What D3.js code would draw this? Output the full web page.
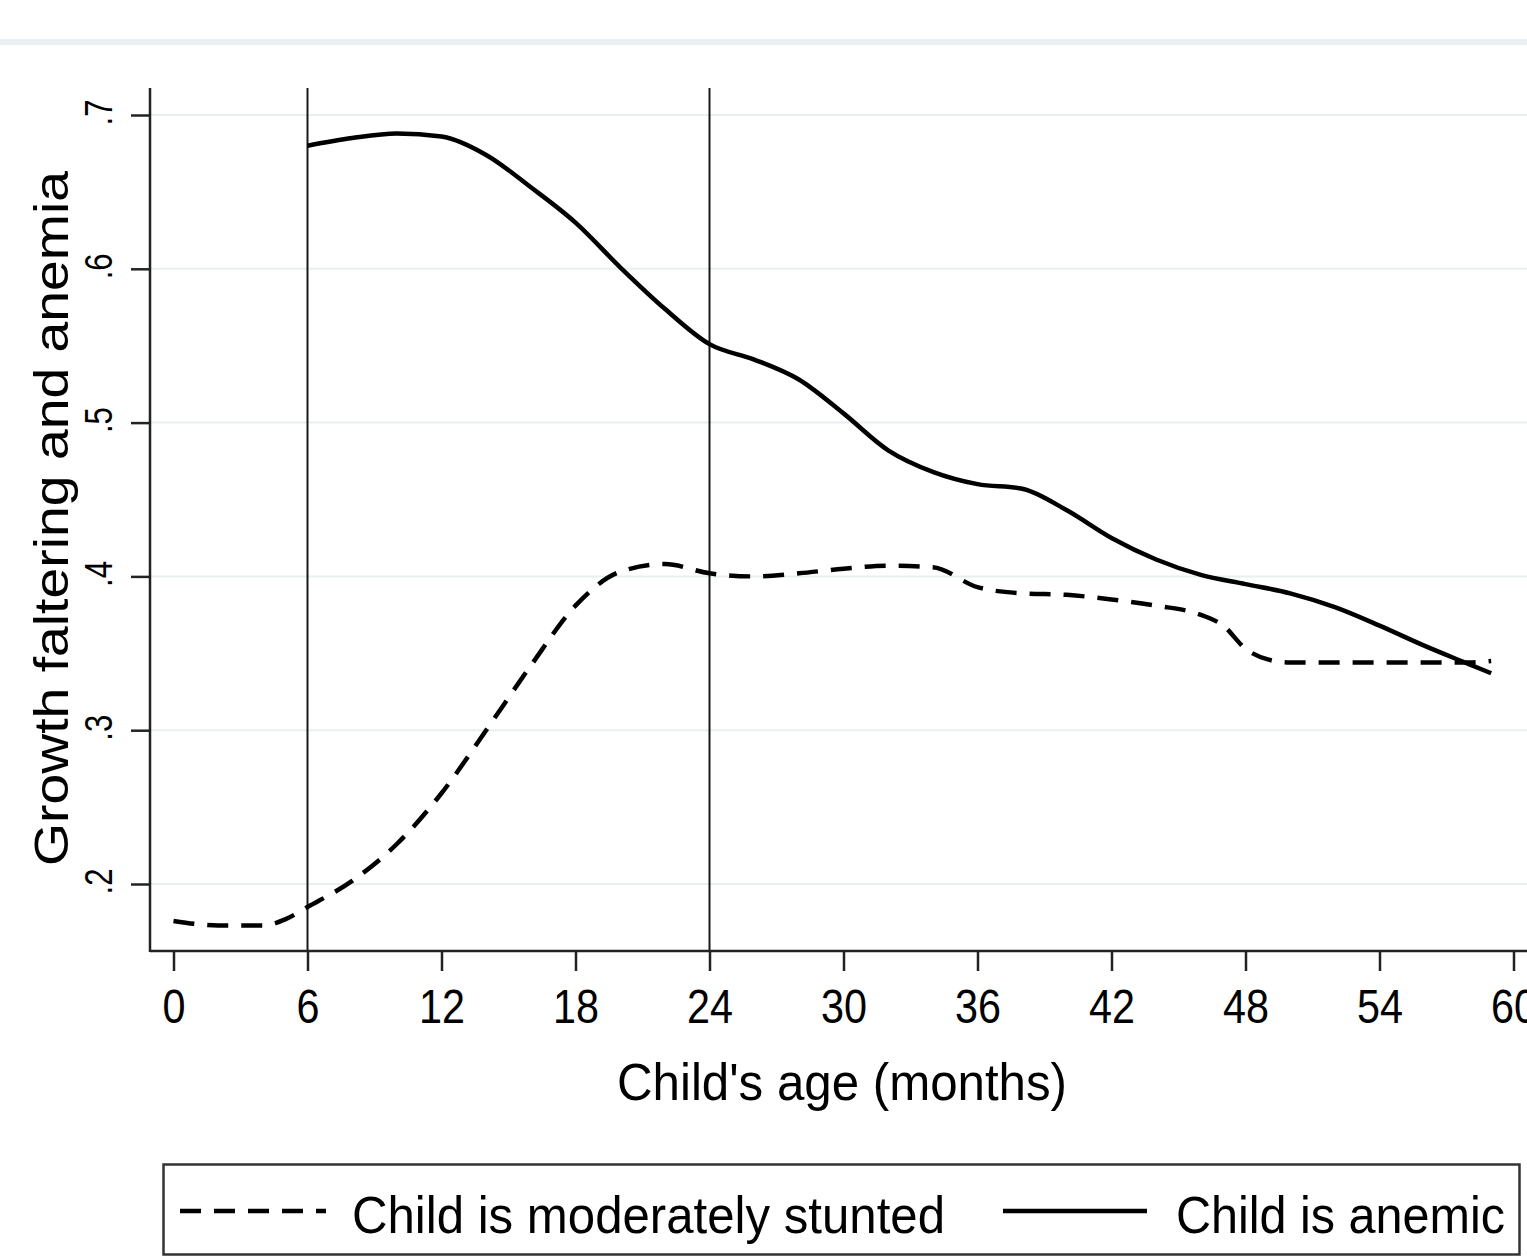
<!DOCTYPE html>
<html><head><meta charset="utf-8">
<script src="https://cdn.jsdelivr.net/npm/d3@7"></script>
<style>
html,body{margin:0;padding:0;background:#fff;overflow:hidden;}
text{font-family:"Liberation Sans",Arial,sans-serif;fill:#000;}
</style></head>
<body>
<svg id="chart" width="1527" height="1257"></svg>
<script>
// ---- data ----
const xTicks = [0, 6, 12, 18, 24, 30, 36, 42, 48, 54, 60];
const yTicks = [0.2, 0.3, 0.4, 0.5, 0.6, 0.7];
const yTickLabels = [".2", ".3", ".4", ".5", ".6", ".7"];
const refLines = [6, 24];

const ageAnemia = [6, 8, 10, 12, 14, 16, 18, 20, 22, 24, 26, 28, 30, 32, 34, 36, 38, 40, 42, 44, 46, 48, 50, 52, 54, 56, 58, 59];
const anemia    = [0.680, 0.685, 0.688, 0.686, 0.674, 0.653, 0.630, 0.601, 0.574, 0.551, 0.541, 0.528, 0.506, 0.482, 0.468, 0.460, 0.457, 0.443, 0.425, 0.411, 0.401, 0.395, 0.389, 0.380, 0.368, 0.355, 0.343, 0.337];

const ageStunted = [0, 1, 2, 3, 4, 5, 6, 8, 10, 12, 14, 16, 18, 20, 22, 24, 26, 28, 30, 32, 34, 36, 38, 40, 42, 44, 46, 47, 48, 49, 50, 52, 54, 56, 58, 59];
const stunted    = [0.176, 0.174, 0.173, 0.173, 0.173, 0.177, 0.185, 0.202, 0.226, 0.259, 0.300, 0.342, 0.381, 0.403, 0.408, 0.402, 0.400, 0.402, 0.405, 0.407, 0.406, 0.393, 0.389, 0.388, 0.385, 0.381, 0.375, 0.368, 0.353, 0.346, 0.344, 0.344, 0.344, 0.344, 0.344, 0.345];

const legendLabels = ["Child is moderately stunted", "Child is anemic"];
const xTitle = "Child's age (months)";
const yTitle = "Growth faltering and anemia";

// ---- layout ----
const svg = d3.select("#chart");
const pLeft = 150, pBottom = 951, pTop = 88, pRight = 1527;
const x = d3.scaleLinear().domain([0, 60]).range([173.5, 1513.5]);
const y = d3.scaleLinear().domain([0.2, 0.7]).range([884, 115]);

// top light band
svg.append("rect").attr("x", 0).attr("y", 39).attr("width", 1527).attr("height", 6).attr("fill", "#e9eff0");

// gridlines
svg.append("g").selectAll("line").data(yTicks).join("line")
  .attr("x1", pLeft).attr("x2", pRight)
  .attr("y1", d => y(d)).attr("y2", d => y(d))
  .attr("stroke", "#e8eff0").attr("stroke-width", 2);

// reference vertical lines
svg.append("g").selectAll("line").data(refLines).join("line")
  .attr("x1", d => x(d)).attr("x2", d => x(d))
  .attr("y1", pTop).attr("y2", pBottom)
  .attr("stroke", "#1a1a1a").attr("stroke-width", 2);

// x axis
const xAxis = d3.axisBottom(x).tickValues(xTicks).tickSize(20).tickSizeOuter(0).tickPadding(16);
const gx = svg.append("g").attr("transform", `translate(0,${pBottom})`).call(xAxis);
gx.select(".domain").remove();
gx.append("line").attr("x1", pLeft).attr("x2", pRight).attr("y1", 0).attr("y2", 0)
  .attr("stroke", "#222").attr("stroke-width", 2.5);
gx.selectAll(".tick line").attr("stroke", "#222").attr("stroke-width", 2.5);
gx.selectAll(".tick text").attr("font-size", 49).attr("fill", "#000")
  .attr("font-family", '"Liberation Sans",Arial,sans-serif')
  .attr("y", 72).attr("dy", null)
  .attr("textLength", d => String(d).length * 23).attr("lengthAdjust", "spacingAndGlyphs");

// y axis
const yAxis = d3.axisLeft(y).tickValues(yTicks).tickSize(19).tickSizeOuter(0)
  .tickFormat((d, i) => yTickLabels[i]);
const gy = svg.append("g").attr("transform", `translate(${pLeft},0)`).call(yAxis);
gy.select(".domain").remove();
gy.append("line").attr("x1", 0).attr("x2", 0).attr("y1", pTop).attr("y2", pBottom + 1)
  .attr("stroke", "#222").attr("stroke-width", 2.5);
gy.selectAll(".tick line").attr("stroke", "#222").attr("stroke-width", 2.5);
gy.selectAll(".tick text").attr("font-size", 38).attr("fill", "#000")
  .attr("font-family", '"Liberation Sans",Arial,sans-serif')
  .attr("x", null).attr("dy", null).attr("y", null)
  .attr("text-anchor", "middle")
  .attr("transform", "translate(-38,-3) rotate(-90)")
  .attr("textLength", 26).attr("lengthAdjust", "spacingAndGlyphs");

// lines
const lineGen = d3.line().curve(d3.curveMonotoneX);
svg.append("path")
  .attr("d", lineGen(ageStunted.map((a, i) => [x(a), y(stunted[i])])))
  .attr("fill", "none").attr("stroke", "#000").attr("stroke-width", 4.5)
  .attr("stroke-dasharray", "21,13");
svg.append("path")
  .attr("d", lineGen(ageAnemia.map((a, i) => [x(a), y(anemia[i])])))
  .attr("fill", "none").attr("stroke", "#000").attr("stroke-width", 4.5);

// titles
svg.append("text").attr("x", 617).attr("y", 1100).attr("font-size", 52)
  .attr("textLength", 450).attr("lengthAdjust", "spacingAndGlyphs").text(xTitle);
svg.append("text").attr("transform", "translate(68,866) rotate(-90)").attr("font-size", 48)
  .attr("textLength", 695).attr("lengthAdjust", "spacingAndGlyphs").text(yTitle);

// legend
const lg = svg.append("g");
lg.append("rect").attr("x", 163.5).attr("y", 1164.5).attr("width", 1356).attr("height", 90)
  .attr("fill", "#fff").attr("stroke", "#333").attr("stroke-width", 2.5);
lg.append("line").attr("x1", 180).attr("x2", 326).attr("y1", 1211).attr("y2", 1211)
  .attr("stroke", "#000").attr("stroke-width", 4.5).attr("stroke-dasharray", "21,13");
lg.append("line").attr("x1", 1003).attr("x2", 1147).attr("y1", 1211).attr("y2", 1211)
  .attr("stroke", "#000").attr("stroke-width", 4.5);
lg.append("text").attr("x", 352).attr("y", 1233).attr("font-size", 52)
  .attr("textLength", 593).attr("lengthAdjust", "spacingAndGlyphs").text(legendLabels[0]);
lg.append("text").attr("x", 1176).attr("y", 1233).attr("font-size", 52)
  .attr("textLength", 329).attr("lengthAdjust", "spacingAndGlyphs").text(legendLabels[1]);
</script>
</body></html>
